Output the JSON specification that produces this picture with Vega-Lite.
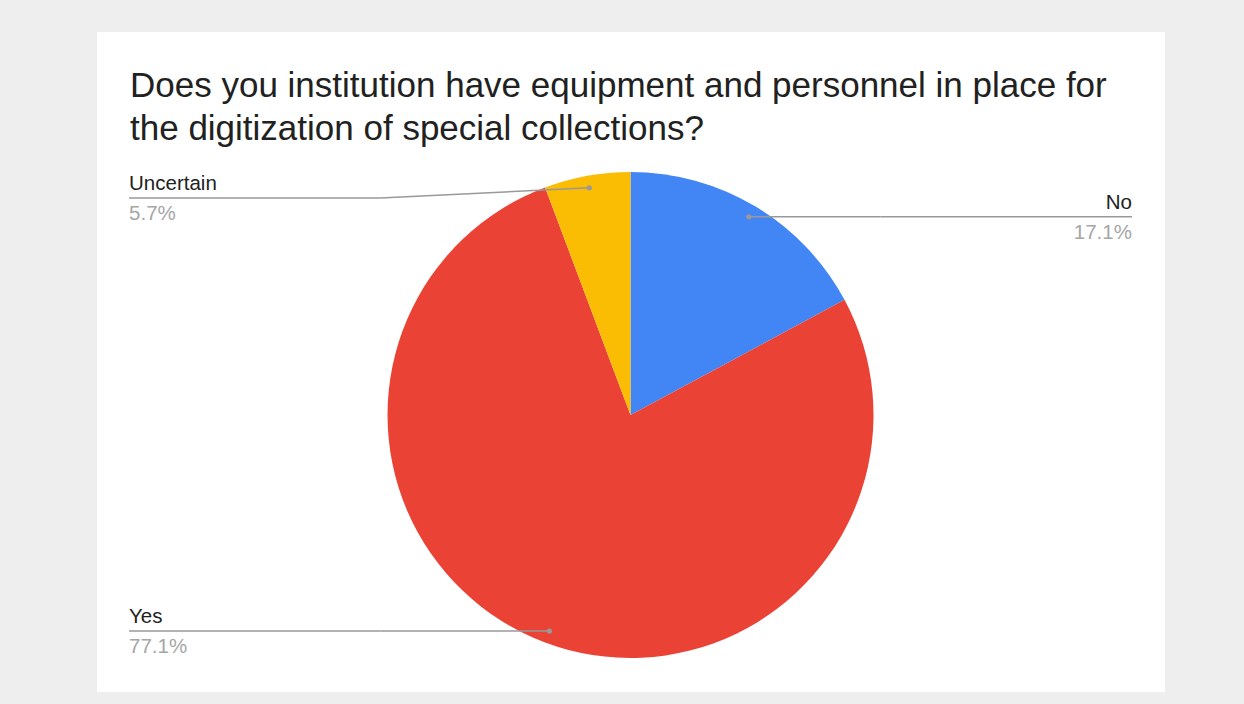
{
  "$schema": "https://vega.github.io/schema/vega-lite/v6.json",
  "width": 1068,
  "height": 660,
  "autosize": {"type": "none"},
  "padding": {"left": 97, "top": 32, "right": 79, "bottom": 12},
  "background": "#eeeeee",
  "view": {"fill": "#ffffff", "stroke": null},
  "title": {
    "text": ["Does you institution have equipment and personnel in place for", "the digitization of special collections?"],
    "anchor": "start",
    "frame": "group",
    "orient": "top",
    "baseline": "top",
    "offset": -115,
    "dx": 33,
    "font": "Liberation Sans",
    "fontSize": 35,
    "fontWeight": "normal",
    "color": "#212121",
    "lineHeight": 43
  },
  "data": {
    "values": [
      {"answer": "No", "count": 6},
      {"answer": "Yes", "count": 27},
      {"answer": "Uncertain", "count": 2}
    ]
  },
  "transform": [
    {"window": [{"op": "row_number", "as": "rank"}]},
    {"joinaggregate": [{"op": "sum", "field": "count", "as": "total"}]},
    {"window": [{"op": "sum", "field": "count", "as": "cum"}], "sort": [{"field": "rank"}], "frame": [null, 0]},
    {"calculate": "datum.count / datum.total", "as": "pct"},
    {"calculate": "2 * PI * (datum.cum - datum.count / 2) / datum.total", "as": "mid"},
    {"calculate": "0.95 * sin(datum.mid)", "as": "dotX"},
    {"calculate": "0.95 * cos(datum.mid)", "as": "dotY"},
    {"calculate": "datum.dotX >= 0 ? 1 : -1", "as": "side"},
    {"calculate": "clamp(datum.dotY, -0.893, 0.893)", "as": "lineY"},
    {"calculate": "1.03 * datum.side", "as": "elbowX"},
    {"calculate": "2.064 * datum.side", "as": "endX"}
  ],
  "layer": [
    {
      "mark": {"type": "arc", "outerRadius": 243, "stroke": null},
      "encoding": {
        "theta": {"field": "count", "type": "quantitative", "stack": true},
        "order": {"field": "rank", "type": "quantitative"},
        "color": {
          "field": "answer",
          "type": "nominal",
          "scale": {"domain": ["No", "Yes", "Uncertain"], "range": ["#4285F4", "#EA4335", "#FBBC04"]},
          "legend": null
        },
        "x": {"datum": 0, "type": "quantitative", "scale": {"domain": [-2.196, 2.2], "nice": false, "zero": false}, "axis": null},
        "y": {"datum": 0, "type": "quantitative", "scale": {"domain": [-1.14, 1.576], "nice": false, "zero": false}, "axis": null}
      }
    },
    {
      "mark": {"type": "rule", "color": "#999999", "strokeWidth": 1.5},
      "encoding": {
        "x": {"field": "dotX", "type": "quantitative", "scale": {"domain": [-2.196, 2.2], "nice": false, "zero": false}, "axis": null},
        "y": {"field": "dotY", "type": "quantitative", "scale": {"domain": [-1.14, 1.576], "nice": false, "zero": false}, "axis": null},
        "x2": {"field": "elbowX"},
        "y2": {"field": "lineY"}
      }
    },
    {
      "mark": {"type": "rule", "color": "#999999", "strokeWidth": 1.5},
      "encoding": {
        "x": {"field": "elbowX", "type": "quantitative"},
        "y": {"field": "lineY", "type": "quantitative"},
        "x2": {"field": "endX"}
      }
    },
    {
      "mark": {"type": "point", "filled": true, "color": "#999999", "opacity": 1, "size": 28},
      "encoding": {
        "x": {"field": "dotX", "type": "quantitative"},
        "y": {"field": "dotY", "type": "quantitative"}
      }
    },
    {
      "transform": [{"filter": "datum.side > 0"}],
      "mark": {"type": "text", "align": "right", "baseline": "alphabetic", "dy": -8, "font": "Liberation Sans", "fontSize": 20.5, "color": "#222222"},
      "encoding": {
        "x": {"field": "endX", "type": "quantitative"},
        "y": {"field": "lineY", "type": "quantitative"},
        "text": {"field": "answer", "type": "nominal"}
      }
    },
    {
      "transform": [{"filter": "datum.side < 0"}],
      "mark": {"type": "text", "align": "left", "baseline": "alphabetic", "dy": -8, "font": "Liberation Sans", "fontSize": 20.5, "color": "#222222"},
      "encoding": {
        "x": {"field": "endX", "type": "quantitative"},
        "y": {"field": "lineY", "type": "quantitative"},
        "text": {"field": "answer", "type": "nominal"}
      }
    },
    {
      "transform": [{"filter": "datum.side > 0"}],
      "mark": {"type": "text", "align": "right", "baseline": "alphabetic", "dy": 22, "font": "Liberation Sans", "fontSize": 20.5, "color": "#a6a6a6"},
      "encoding": {
        "x": {"field": "endX", "type": "quantitative"},
        "y": {"field": "lineY", "type": "quantitative"},
        "text": {"field": "pct", "type": "quantitative", "format": ".1%"}
      }
    },
    {
      "transform": [{"filter": "datum.side < 0"}],
      "mark": {"type": "text", "align": "left", "baseline": "alphabetic", "dy": 22, "font": "Liberation Sans", "fontSize": 20.5, "color": "#a6a6a6"},
      "encoding": {
        "x": {"field": "endX", "type": "quantitative"},
        "y": {"field": "lineY", "type": "quantitative"},
        "text": {"field": "pct", "type": "quantitative", "format": ".1%"}
      }
    }
  ]
}
